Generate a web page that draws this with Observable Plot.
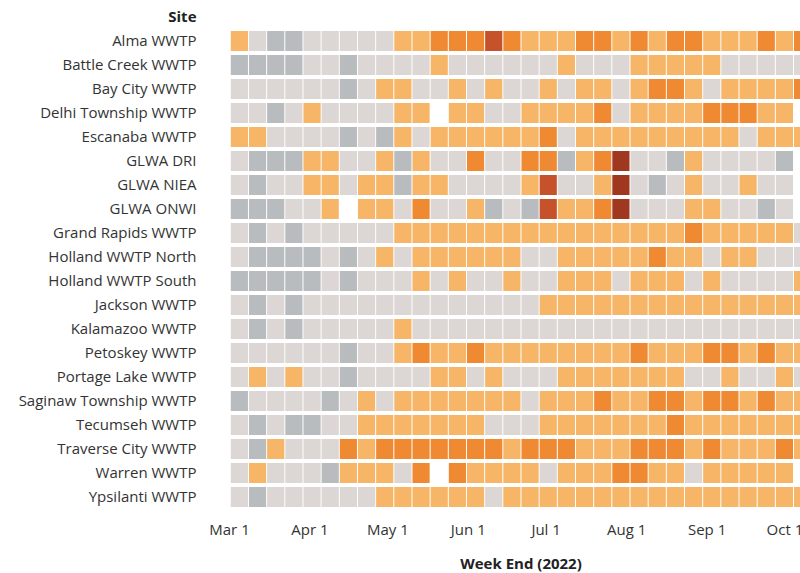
<!DOCTYPE html>
<html>
<head>
<meta charset="utf-8">
<script src="https://cdn.jsdelivr.net/npm/d3@7"></script>
<script src="https://cdn.jsdelivr.net/npm/@observablehq/plot@0.6"></script>
<style>
  html, body { margin: 0; padding: 0; background: #fff; overflow: hidden; }
</style>
</head>
<body>
<div id="chart"></div>
<script>
// Sites (rows, top to bottom)
const sites = [
  "Alma WWTP", "Battle Creek WWTP", "Bay City WWTP", "Delhi Township WWTP",
  "Escanaba WWTP", "GLWA DRI", "GLWA NIEA", "GLWA ONWI", "Grand Rapids WWTP",
  "Holland WWTP North", "Holland WWTP South", "Jackson WWTP", "Kalamazoo WWTP",
  "Petoskey WWTP", "Portage Lake WWTP", "Saginaw Township WWTP", "Tecumseh WWTP",
  "Traverse City WWTP", "Warren WWTP", "Ypsilanti WWTP"
];

// Week end dates (columns, left to right)
const weekEnds = [
  "2022-03-05", "2022-03-12", "2022-03-19", "2022-03-26", "2022-04-02", "2022-04-09",
  "2022-04-16", "2022-04-23", "2022-04-30", "2022-05-07", "2022-05-14", "2022-05-21",
  "2022-05-28", "2022-06-04", "2022-06-11", "2022-06-18", "2022-06-25", "2022-07-02",
  "2022-07-09", "2022-07-16", "2022-07-23", "2022-07-30", "2022-08-06", "2022-08-13",
  "2022-08-20", "2022-08-27", "2022-09-03", "2022-09-10", "2022-09-17", "2022-09-24",
  "2022-10-01", "2022-10-08"
];

// Level codes: D = not detected, G = low, L = moderate, O = high, R = very high, B = extreme, "-" = no sample
const levelCodes  = ["D", "G", "L", "O", "R", "B"];
const levelColors = ["#b9bcbe", "#dcd7d4", "#f7b567", "#ef8a32", "#c5522a", "#a0381f"];

// One string per site, one code per week
const levels = [
  "LGDDGGGGGLLOOOROLLLOOLOLOOLLLOLO",
  "DDDDGGDGGGGLGGGGGGLGGGLLLLLGGGGG",
  "GGGGGGDGLLGGLGLGGLGLLGLOOLGLLLLO",
  "GGDGLGGGGLL-LLGGLLLLOGLLLLOOOLL-",
  "LLGGGGDGDLGLLLLLLOGLLLLLLLLLGLLL",
  "GDDDLLGGLDLGGOGGOODLOBGGDLGGGGD-",
  "GDGGLLGLLDLLGGGGLRGGLBGDGLGGLGG-",
  "DDDGGL-LLGOGGLDGDRLLOBGGGLLGGDG-",
  "GDGDGGGGGLLLLLLLLLLLLLLLLOLLLLLG",
  "GDDDDGDGLGLLLLLLGGLLLLLOLLGLLGGG",
  "DDDDDGDGGGLGLGGLGGLLLGLLLGLGGGGL",
  "GDGDGGGGGGGGGGGGGLLLLLLLLLLLLLLL",
  "GDGDGGGGGLGGGGGGGGGGGGGGGGGGGGGG",
  "GGGGGGDGGLOLLOLLLLLLLLOLLLOOLOLL",
  "GLGLGGDGGGGLLGLGGGLLLLLLLGGLGGLG",
  "DGGGGDGLGLLLLLLLGLLLOLLOOLOOLOLL",
  "GDGDDGGLLLLLLLGGGLLLLLLLOLLLLLLL",
  "GDLGGGOLOOOOOOOLOOOLLLOOOLOLLLOL",
  "GLGGGDLLLGO-OLLLLGLLLOOLLGLLLLL-",
  "GDGGGGGGLLLLLLGLLLLLLLLLLLLLLLLL"
];

// Axis tick labels (month starts)
const tickDates = ["2022-03-01", "2022-04-01", "2022-05-01", "2022-06-01",
                   "2022-07-01", "2022-08-01", "2022-09-01", "2022-10-01"];

const DAY = 24 * 3600 * 1000;
const cells = [];
sites.forEach((site, i) => {
  levels[i].split("").forEach((code, j) => {
    if (code === "-") return;
    const d = new Date(weekEnds[j] + "T00:00:00Z");
    cells.push({
      site,
      code,
      x1: new Date(+d - 3.5 * DAY),
      x2: new Date(+d + 3.5 * DAY)
    });
  });
});

const chart = Plot.plot({
  width: 800,
  height: 573,
  marginLeft: 229,
  marginRight: 0,
  marginTop: 29,
  marginBottom: 64,
  style: { fontFamily: "'Open Sans', sans-serif", fontSize: "15px", color: "#333", background: "#fff" },
  x: {
    type: "utc",
    domain: [new Date("2022-03-01T00:00:00Z"), new Date("2022-10-07T00:00:00Z")],
    ticks: tickDates.map(s => new Date(s + "T00:00:00Z")),
    tickFormat: d3.utcFormat("%b %-d"),
    tickSize: 0,
    tickPadding: 15,
    label: null
  },
  y: {
    domain: sites,
    paddingInner: 0.146,
    paddingOuter: 0.073,
    tickSize: 0,
    tickPadding: 33,
    label: null
  },
  color: { domain: levelCodes, range: levelColors },
  marks: [
    Plot.barX(cells, {
      x1: "x1", x2: "x2", y: "site", fill: "code",
      insetLeft: 0.5, insetRight: 0.5, clip: true
    }),
    Plot.text(["Site"], {
      frameAnchor: "top-left", lineAnchor: "middle", dx: -33, dy: -12, textAnchor: "end",
      fontWeight: "bold", fontSize: 15, fill: "#222"
    }),
    Plot.text(["Week End (2022)"], {
      frameAnchor: "bottom", lineAnchor: "middle", dx: 6, dy: 55,
      fontWeight: "bold", fontSize: 15, fill: "#222"
    })
  ]
});

document.getElementById("chart").appendChild(chart);
</script>
</body>
</html>
